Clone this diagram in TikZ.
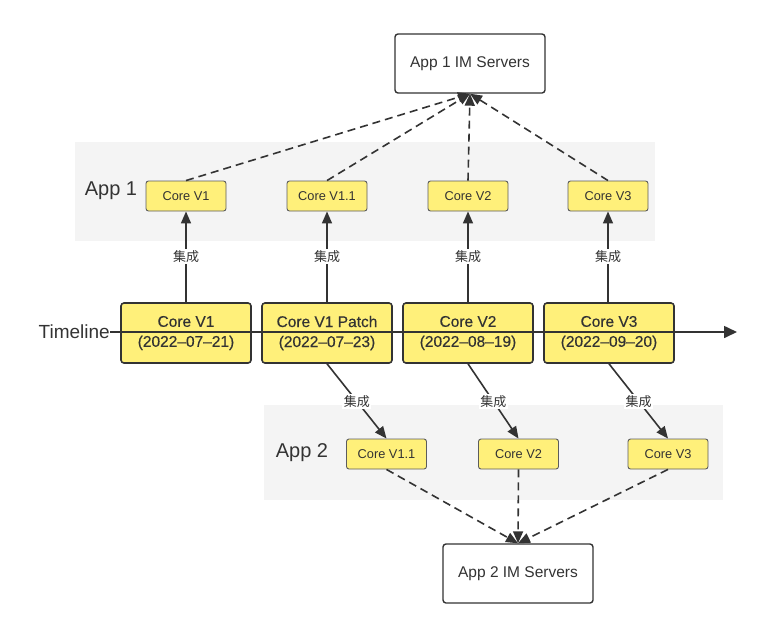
\documentclass[tikz,border=0pt]{standalone}
\usepackage{fontspec}
\setmainfont{Liberation Sans}
\newfontfamily\heavier[FakeBold=0.35]{Liberation Sans}
\newfontfamily\cjk{Noto Sans CJK SC}
\usetikzlibrary{arrows.meta}
\definecolor{ink}{HTML}{333333}
\definecolor{coreyellow}{HTML}{FFF07A}
\definecolor{band}{HTML}{F4F4F4}
\begin{document}
\begin{tikzpicture}[x=1pt,y=-1pt,
  band/.style={fill=band,draw=none},
  server/.style={draw=ink,line width=1.4pt,rounded corners=3pt,fill=white,
    minimum width=150pt,minimum height=59pt,font=\fontsize{15.5}{17}\selectfont,text=ink},
  smallcore/.style={draw=ink!80,line width=0.9pt,rounded corners=2.5pt,fill=coreyellow,
    minimum width=80pt,minimum height=30pt,font=\fontsize{12.8}{14}\selectfont,text=ink},
  release/.style={draw=ink,line width=1.6pt,rounded corners=3pt,fill=coreyellow,
    minimum width=130pt,minimum height=60pt,align=center,
    font=\heavier\fontsize{15.5}{20}\selectfont,text=ink},
  applabel/.style={font=\fontsize{20}{22}\selectfont,text=ink},
  integ/.style={font=\cjk\fontsize{13}{15}\selectfont,text=ink,fill=white,inner sep=1.5pt},
  solidarrow/.style={draw=ink,line width=1.6pt,-{Triangle[length=12pt,width=10pt]}},
  dasharrow/.style={draw=ink,line width=1.6pt,dash pattern=on 8pt off 5pt,
    -{Triangle[length=12pt,width=10pt]}},
]
\useasboundingbox (0,0) rectangle (784,638);

% background bands for the two apps
\fill[band] (75,142) rectangle (655,241);
\fill[band] (264,405) rectangle (723,500);
\node[applabel] (app1) at (111,191) {App 1};
\node[applabel] (app2) at (302,453) {App 2};

% IM servers
\node[server] (im1) at (470,63.5) {App 1 IM Servers};
\node[server] (im2) at (518,573.5) {App 2 IM Servers};

% cores integrated in App 1
\node[smallcore] (a1) at (186,196) {Core V1};
\node[smallcore] (a2) at (327,196) {Core V1.1};
\node[smallcore] (a3) at (468,196) {Core V2};
\node[smallcore] (a4) at (608,196) {Core V3};

% cores integrated in App 2
\node[smallcore] (b2) at (386.5,454) {Core V1.1};
\node[smallcore] (b3) at (518.5,454) {Core V2};
\node[smallcore] (b4) at (668,454) {Core V3};

% releases on the timeline
\node[release] (r1) at (186,333) {Core V1\\(2022–07–21)};
\node[release] (r2) at (327,333) {Core V1 Patch\\(2022–07–23)};
\node[release] (r3) at (468,333) {Core V2\\(2022–08–19)};
\node[release] (r4) at (609,333) {Core V3\\(2022–09–20)};

% timeline axis, drawn over the release boxes
\node[anchor=east,font=\fontsize{19}{21}\selectfont,text=ink,inner sep=0pt] (tl) at (110,332) {Timeline};
\coordinate (tend) at (737,332);
\draw[draw=ink,line width=1.6pt,-{Triangle[length=13pt,width=12pt]}] (tl.east) -- (tend);

% integration into App 1
\foreach \r/\c in {r1/a1,r2/a2,r3/a3,r4/a4}{
  \path[solidarrow] (\r.north -| \c.south) -- node[integ] {集成} (\c.south);
}

% integration into App 2
\path[solidarrow] (r2.south) -- node[integ] {集成} (b2.north);
\path[solidarrow] (r3.south) -- node[integ] {集成} (b3.north);
\path[solidarrow] (r4.south) -- node[integ] {集成} (b4.north);

% connections to the IM servers
\foreach \c in {a1,a2,a3,a4}{
  \path[dasharrow] (\c.north) -- (im1.south);
}
\foreach \c in {b2,b3,b4}{
  \path[dasharrow] (\c.south) -- (im2.north);
}
\end{tikzpicture}
\end{document}
